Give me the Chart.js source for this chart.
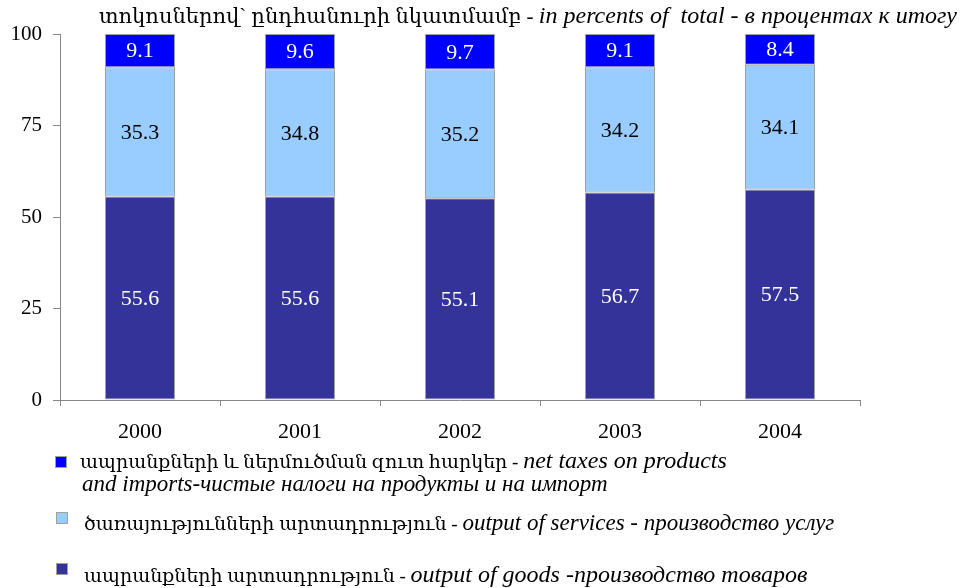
<!DOCTYPE html>
<html>
<head>
<meta charset="utf-8">
<script src="https://cdn.jsdelivr.net/npm/chart.js@4/dist/chart.umd.min.js"></script>
<style>
  html, body { margin: 0; padding: 0; background: #fff; }
  #wrap { position: relative; width: 965px; height: 588px; font-family: 'Liberation Serif', 'Times New Roman', Times, 'DejaVu Serif', serif; color: #000; }
  canvas { position: absolute; left: 0; top: 0; }
  .it { font-style: italic; font-size: 23px; }
  .hy { font-size: 19px; }
  #title { position: absolute; right: 8px; top: 0; line-height: 30px; white-space: nowrap; }
  #title .hy { font-size: 21px; }
  #title .it { font-size: 24px; }
  .ln { position: absolute; line-height: 24px; white-space: nowrap; }
  .sw { position: absolute; width: 10px; height: 10px; border: 1px solid #a0a0a0; }
</style>
</head>
<body>
<div id="wrap">
  <canvas id="c" width="965" height="588"></canvas>
  <div id="title"><span class="hy">տոկոսներով` ընդհանուրի նկատմամբ - </span><span class="it">in percents of&nbsp; total - в процентах к итогу</span></div>

  <div class="sw" style="background:#0000ff;left:55px;top:456px"></div>
  <div class="ln" style="left:80px;top:448px"><span class="hy">ապրանքների և ներմուծման զուտ հարկեր - </span><span class="it" style="font-size:24px">net taxes on products</span></div>
  <div class="ln it" style="left:82px;top:472px">and imports-чистые налоги на продукты и на импорт</div>

  <div class="sw" style="background:#99ccff;left:56px;top:512px"></div>
  <div class="ln" style="left:84px;top:511px"><span class="hy">ծառայությունների արտադրություն - </span><span class="it">output of services - производство услуг</span></div>

  <div class="sw" style="background:#333399;left:56px;top:563px"></div>
  <div class="ln" style="left:84px;top:562px"><span class="hy">ապրանքների արտադրություն - </span><span class="it" style="font-size:24px">output of goods -производство товаров</span></div>
</div>
<script>
const years = ['2000', '2001', '2002', '2003', '2004'];
const goods = [55.6, 55.6, 55.1, 56.7, 57.5];
const services = [35.3, 34.8, 35.2, 34.2, 34.1];
const taxes = [9.1, 9.6, 9.7, 9.1, 8.4];
const yTicks = [0, 25, 50, 75, 100];

const COLORS = {
  goods: '#333399',
  services: '#99ccff',
  taxes: '#0000ff',
};

const FONT = "'Liberation Serif', 'Times New Roman', Times, 'DejaVu Serif', serif";

// values written in the middle of each segment
const valueLabels = {
  id: 'valueLabels',
  afterDatasetsDraw(chart) {
    const ctx = chart.ctx;
    ctx.save();
    ctx.font = '22px ' + FONT;
    ctx.textAlign = 'center';
    ctx.textBaseline = 'middle';
    chart.data.datasets.forEach((ds, i) => {
      const meta = chart.getDatasetMeta(i);
      meta.data.forEach((bar, j) => {
        const p = bar.getProps(['x', 'y', 'base'], true);
        ctx.fillStyle = ds.labelColor;
        ctx.fillText(ds.data[j].toFixed(1), p.x, (p.y + p.base) / 2 + 1);
      });
    });
    ctx.restore();
  },
};

new Chart(document.getElementById('c'), {
  type: 'bar',
  data: {
    labels: years,
    datasets: [
      { label: 'goods', data: goods, backgroundColor: COLORS.goods, labelColor: '#fff' },
      { label: 'services', data: services, backgroundColor: COLORS.services, labelColor: '#000' },
      { label: 'taxes', data: taxes, backgroundColor: COLORS.taxes, labelColor: '#fff' },
    ].map(d => Object.assign(d, {
      borderColor: '#a0a0a0',
      borderWidth: 1,
      borderSkipped: false,
      barPercentage: 0.875,
      categoryPercentage: 0.5,
    })),
  },
  options: {
    responsive: false,
    animation: false,
    layout: { padding: { top: 34, right: 105, bottom: 0, left: 0 } },
    plugins: { legend: { display: false }, tooltip: { enabled: false } },
    scales: {
      x: {
        stacked: true,
        afterFit: s => { s.height = 188; },
        grid: { drawOnChartArea: false, tickLength: 6, color: '#888' },
        border: { color: '#888' },
        ticks: { color: '#000', font: { family: FONT, size: 22 }, padding: 13 },
      },
      y: {
        stacked: true,
        min: 0,
        max: 100,
        afterFit: s => { s.width = 60; },
        afterBuildTicks: s => { s.ticks = yTicks.map(v => ({ value: v })); },
        grid: { drawOnChartArea: false, tickLength: 7, color: '#888' },
        border: { color: '#888' },
        ticks: { color: '#000', font: { family: FONT, size: 21 }, padding: 11 },
      },
    },
  },
  plugins: [valueLabels],
});
</script>
</body>
</html>
